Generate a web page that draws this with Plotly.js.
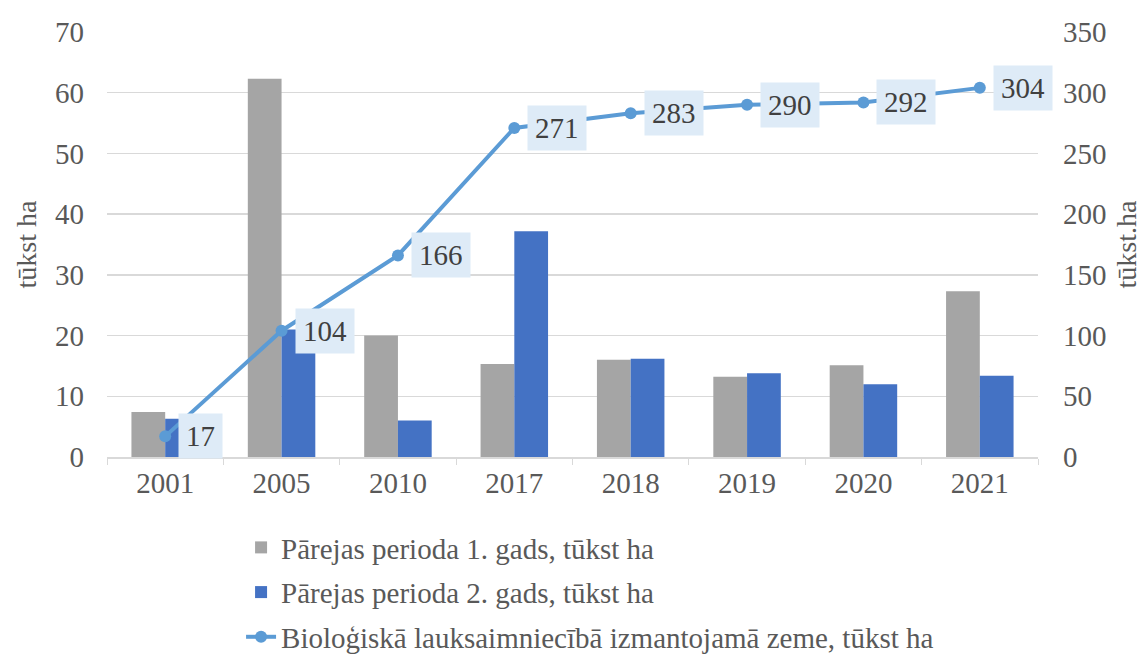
<!DOCTYPE html>
<html>
<head>
<meta charset="utf-8">
<script src="https://cdn.plot.ly/plotly-3.0.1.min.js"></script>
<style>html,body{margin:0;padding:0;background:#fff;}#chart{width:1145px;height:655px;}</style>
</head>
<body>
<div id="chart"></div>
<script>
const years = ["2001", "2005", "2010", "2017", "2018", "2019", "2020", "2021"];
const period1 = [7.4, 62.3, 20.0, 15.3, 16.0, 13.2, 15.1, 27.3];
const period2 = [6.3, 21.0, 6.0, 37.2, 16.2, 13.8, 12.0, 13.4];
const organicLand = [17, 104, 166, 271, 283, 290, 292, 304];
const name1 = "Pārejas perioda 1. gads, tūkst ha";
const name2 = "Pārejas perioda 2. gads, tūkst ha";
const name3 = "Bioloģiskā lauksaimniecībā izmantojamā zeme, tūkst ha";
const leftTitle = "tūkst ha";
const rightTitle = "tūkst.ha";

const FONT = "Liberation Serif, Times New Roman, serif";
const traces = [
  {type: "bar", x: years, y: period1, name: name1, marker: {color: "#A5A5A5"}, yaxis: "y", legendgroup: "a"},
  {type: "bar", x: years, y: period2, name: name2, marker: {color: "#4472C4"}, yaxis: "y", legendgroup: "b"},
  {type: "scatter", mode: "lines+markers", x: years, y: organicLand, name: name3, yaxis: "y2", legendgroup: "c",
   line: {color: "#5B9BD5", width: 4}, marker: {color: "#5B9BD5", size: 12}}
];

const annotations = years.map((yr, i) => ({
  x: i, y: organicLand[i], xref: "x", yref: "y2",
  text: String(organicLand[i]), showarrow: false,
  xanchor: "left", yanchor: "middle", xshift: 13,
  bgcolor: "#DEEBF7", borderpad: 7, height: 30,
  font: {family: FONT, size: 29, color: "#404040"}
}));

const layout = {
  width: 1145, height: 655,
  margin: {l: 107, r: 107, t: 32, b: 198, autoexpand: false},
  paper_bgcolor: "#fff", plot_bgcolor: "#fff",
  font: {family: FONT, size: 29, color: "#595959"},
  barmode: "group", bargap: 0.42, bargroupgap: 0,
  showlegend: true,
  legend: {x: 0.144, xanchor: "left", yref: "container", y: 0.203, yanchor: "top", orientation: "v",
           font: {family: FONT, size: 29, color: "#595959"}, traceorder: "grouped", tracegroupgap: 4,
           bgcolor: "rgba(0,0,0,0)"},
  xaxis: {type: "category", range: [-0.5, 7.5], autorange: false, showline: true, linecolor: "#D9D9D9", linewidth: 1.5,
          ticks: "outside", tickson: "boundaries", ticklen: 6, tickcolor: "#D9D9D9", tickangle: 0,
          tickfont: {family: FONT, size: 29, color: "#595959"}, showgrid: false, fixedrange: true},
  yaxis: {range: [0, 70], dtick: 10, showgrid: true, gridcolor: "#D9D9D9", gridwidth: 1.5,
          zeroline: false, showline: false, ticks: "", ticklabelstandoff: 22,
          tickfont: {family: FONT, size: 29, color: "#595959"},
          title: {text: leftTitle, font: {family: FONT, size: 28, color: "#595959"}, standoff: 10}},
  yaxis2: {range: [0, 350], dtick: 50, overlaying: "y", side: "right", showgrid: false,
           zeroline: false, showline: false, ticks: "", ticklabelstandoff: 24,
           tickfont: {family: FONT, size: 29, color: "#595959"},
           title: {text: rightTitle, font: {family: FONT, size: 28, color: "#595959"}, standoff: 10}},
  annotations: annotations
};

Plotly.newPlot("chart", traces, layout, {displayModeBar: false, staticPlot: true});
</script>
</body>
</html>
